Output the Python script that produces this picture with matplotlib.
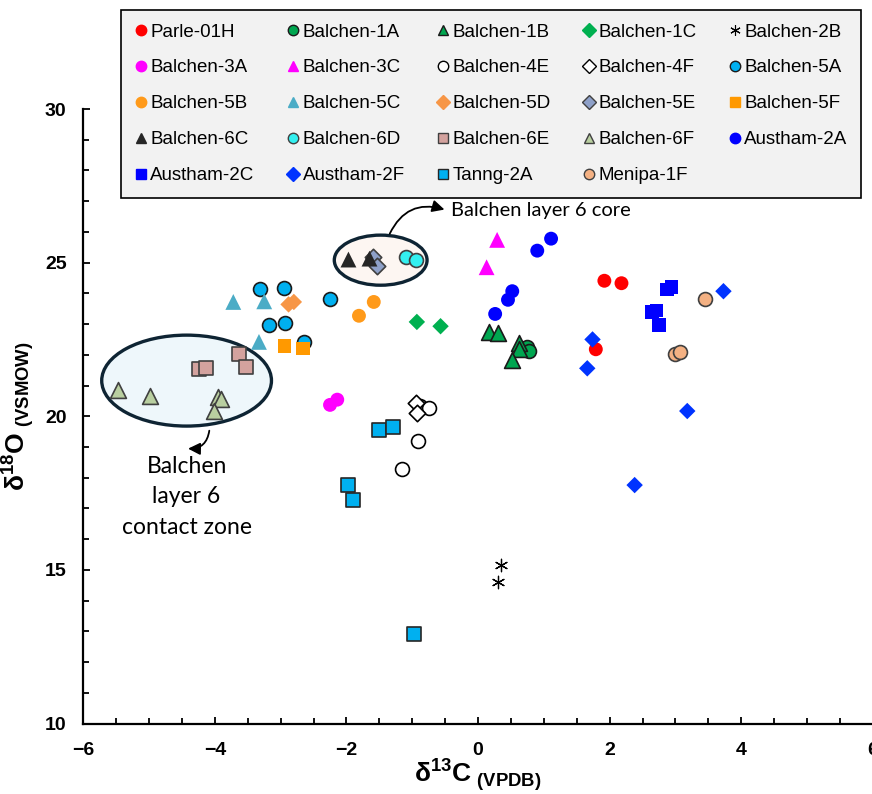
import matplotlib.pyplot as plt
from matplotlib.patches import Ellipse
from matplotlib.lines import Line2D

plt.rcParams['mathtext.fontset'] = 'custom'
plt.rcParams['mathtext.rm'] = 'Liberation Sans'
plt.rcParams['mathtext.bf'] = 'Liberation Sans:bold'

# sample name, d13C values, d18O values
names = ['Parle-01H', 'Balchen-1A', 'Balchen-1B', 'Balchen-1C', 'Balchen-2B',
         'Balchen-3A', 'Balchen-3C', 'Balchen-4E', 'Balchen-4F', 'Balchen-5A',
         'Balchen-5B', 'Balchen-5C', 'Balchen-5D', 'Balchen-5E', 'Balchen-5F',
         'Balchen-6C', 'Balchen-6D', 'Balchen-6E', 'Balchen-6F', 'Austham-2A',
         'Austham-2C', 'Austham-2F', 'Tanng-2A', 'Menipa-1F']

d13c = [
    [1.92, 2.18, 1.79],
    [0.74, 0.78],
    [0.16, 0.31, 0.62, 0.63, 0.52],
    [-0.93, -0.57],
    [0.35, 0.30],
    [-2.25, -2.14],
    [0.29, 0.13],
    [-0.88, -0.75, -0.92, -1.15],
    [-0.95, -0.93],
    [-3.32, -2.95, -2.25, -3.17, -2.94, -2.65],
    [-1.585, -1.81],
    [-3.72, -3.25, -3.33],
    [-2.88, -2.80],
    [-1.59, -1.54],
    [-2.94, -2.66],
    [-1.97, -1.65],
    [-1.09, -0.94],
    [-3.64, -3.52, -4.24, -4.13],
    [-5.47, -4.99, -3.96, -3.90, -4.02],
    [1.11, 0.90, 0.52, 0.455, 0.26],
    [2.87, 2.94, 2.64, 2.71, 2.75],
    [3.73, 1.74, 1.66, 3.18, 2.38],
    [-1.50, -1.30, -1.97, -1.90, -0.98],
    [3.45, 3.00, 3.07],
]

d18o = [
    [24.41, 24.33, 22.18],
    [22.24, 22.13],
    [22.75, 22.72, 22.37, 22.18, 21.83],
    [23.07, 22.93],
    [15.17, 14.59],
    [20.37, 20.54],
    [25.74, 24.85],
    [20.34, 20.26, 19.20, 18.29],
    [20.42, 20.09],
    [24.14, 24.17, 23.80, 22.97, 23.04, 22.42],
    [23.72, 23.27],
    [23.72, 23.74, 22.42],
    [23.64, 23.72],
    [25.18, 24.90],
    [22.28, 22.21],
    [25.10, 25.13],
    [25.18, 25.07],
    [22.01, 21.61, 21.53, 21.56],
    [20.84, 20.66, 20.63, 20.55, 20.17],
    [25.78, 25.39, 24.07, 23.79, 23.33],
    [24.12, 24.20, 23.40, 23.44, 22.97],
    [24.07, 22.50, 21.56, 20.17, 17.76],
    [19.56, 19.65, 17.76, 17.27, 12.92],
    [23.83, 22.01, 22.10],
]

markers = ['o', 'o', '^', 'D', (6, 2, 0), 'o', '^', 'o', 'D', 'o',
           'o', '^', 'D', 'D', 's', '^', 'o', 's', '^', 'o',
           's', 'D', 's', 'o']
faces = ['#FF0000', '#00A650', '#00A650', '#00B050', 'black',
         '#FF00FF', '#FF00FF', 'white', 'white', '#00B0F0',
         '#FF9A1A', '#4BACC6', '#F79646', '#8EA0C8', '#FF9900',
         '#262626', '#33F0F0', '#D3A29E', '#B9CFA0', '#0000FF',
         '#0000FF', '#0033FF', '#00B0F0', '#F4B183']
edges = ['none', '#1A1A1A', '#1A1A1A', 'none', 'black',
         'none', 'none', 'black', 'black', '#1A1A1A',
         'none', 'none', 'none', '#404040', 'none',
         'none', '#404040', '#404040', '#404040', 'none',
         'none', 'none', '#262626', '#404040']

fig = plt.figure(figsize=(8.72, 7.94), dpi=100)
ax = fig.add_axes([83.3 / 872, 70.5 / 794, 789.5 / 872, 614.5 / 794])

# highlighted groups
ax.add_patch(Ellipse((-4.43, 21.16), 2.58, 2.96, facecolor='#EEF7FB',
                     edgecolor='#0E2433', linewidth=2.4, zorder=1))
ax.add_patch(Ellipse((-1.48, 25.08), 1.41, 1.63, facecolor='#FDF6F2',
                     edgecolor='#0E2433', linewidth=2.4, zorder=1))

handles = []
for i, name in enumerate(names):
    m = markers[i]
    size = 130 if m == '^' else (95 if m in ('s', 'D') else 100)
    lw = 1.2
    if m == (6, 2, 0):
        size = 80
        lw = 0.9
    if m == 'D':
        size = 70
    ax.scatter(d13c[i], d18o[i], marker=m, s=size, c=faces[i],
               edgecolors=edges[i] if m != (6, 2, 0) else None,
               linewidths=lw, zorder=3)
    handles.append(Line2D([], [], linestyle='none', marker=m, markersize=7.5,
                          markerfacecolor=faces[i],
                          markeredgecolor=edges[i] if edges[i] != 'none' else faces[i],
                          markeredgewidth=1.0 if m != (6, 2, 0) else 0.8,
                          label=name))

# annotations
ax.annotate('', xy=(-0.47, 26.7), xytext=(-1.36, 25.86),
            arrowprops=dict(arrowstyle='-|>', color='black', lw=1.3,
                            mutation_scale=18,
                            connectionstyle='arc3,rad=-0.45'), zorder=4)
ax.text(-0.41, 26.7, 'Balchen layer 6 core', fontsize=14.5, family='Lato',
        va='center', ha='left')
ax.annotate('', xy=(-4.45, 18.95), xytext=(-4.08, 19.62),
            arrowprops=dict(arrowstyle='-|>', color='black', lw=1.3,
                            mutation_scale=18,
                            connectionstyle='arc3,rad=-0.5'), zorder=4)
ax.text(-4.43, 18.72, 'Balchen\nlayer 6\ncontact zone', fontsize=16.5,
        family='Lato', va='top', ha='center', linespacing=1.57)

ax.set_xlim(-6, 6)
ax.set_ylim(10, 30)
ax.set_xticks([-6, -4, -2, 0, 2, 4, 6])
ax.set_xticklabels(['\u22126', '\u22124', '\u22122', '0', '2', '4', '6'])
ax.set_yticks([10, 15, 20, 25, 30])
ax.set_xticks([x * 0.5 - 6 for x in range(25)], minor=True)
ax.set_yticks(list(range(10, 31)), minor=True)
ax.tick_params(which='both', direction='in', width=1.3, labelsize=14)
ax.tick_params(which='major', length=5)
ax.tick_params(which='minor', length=4)
ax.tick_params(axis='x', pad=13)
ax.tick_params(axis='y', pad=12)
for lab in ax.get_xticklabels() + ax.get_yticklabels():
    lab.set_fontweight('bold')
    lab.set_family('Liberation Sans')
for s in ['top', 'right']:
    ax.spines[s].set_visible(False)
for s in ['left', 'bottom']:
    ax.spines[s].set_linewidth(1.6)

ax.set_xlabel(r'$\mathbf{\delta^{13}C}$' + r'$_{\mathbf{\ (VPDB)}}$', fontsize=19)
ax.set_ylabel(r'$\mathbf{\delta^{18}O}$' + r'$_{\mathbf{\ (VSMOW)}}$', fontsize=19)
ax.xaxis.set_label_coords(0.5, -0.056)
ax.yaxis.set_label_coords(-0.059, 0.5)

# legend fills row by row in the reference
ncol = 5
order = []
for c in range(ncol):
    for r in range(5):
        k = r * ncol + c
        if k < len(handles):
            order.append(k)
leg = fig.legend([handles[k] for k in order], [names[k] for k in order],
                 ncol=ncol, loc='upper left',
                 bbox_to_anchor=(121 / 872, 1 - 10 / 794),
                 borderaxespad=0, prop={'family': 'Liberation Sans', 'size': 13.5},
                 handlelength=0.7, handletextpad=0.15, labelspacing=1.0,
                 columnspacing=1.7, borderpad=0.72, fancybox=False,
                 facecolor='#F2F2F2', edgecolor='black', framealpha=1)
leg.get_frame().set_linewidth(1.2)

fig.savefig('out.png', dpi=100)
